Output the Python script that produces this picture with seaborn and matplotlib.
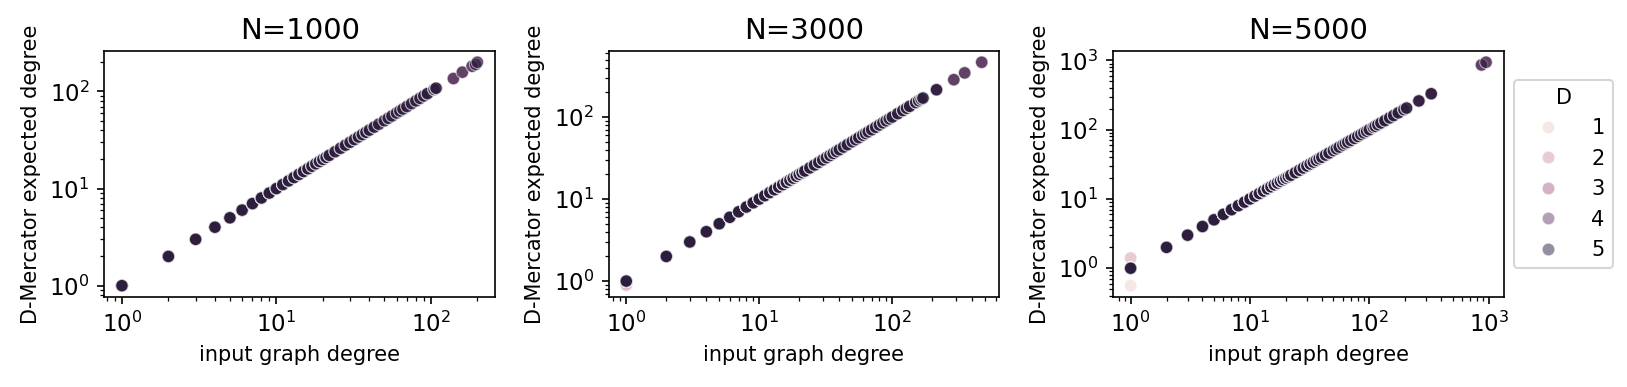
import numpy as np
import pandas as pd
import matplotlib
matplotlib.use("Agg")
import matplotlib.pyplot as plt
import seaborn as sns

# network sizes (one panel each) and embedding dimensions (hue)
sizes = [1000, 3000, 5000]
dims = [1, 2, 3, 4, 5]

# input degrees found in every network; expected degree sits on the diagonal
deg_low = [1, 2, 3, 4, 5, 6, 7, 8, 9, 10, 11, 12, 13, 14, 15, 16, 17, 18, 19,
           20, 21, 22, 24, 26, 28, 30, 32, 34, 36, 38, 40, 43, 46, 50, 53, 56,
           60, 63, 66, 70, 75, 80, 85, 90]
# number of nodes sharing each of those degrees
cnt_1000 = [6, 8, 9, 9, 8, 8, 7, 7, 6, 6, 6, 5, 5, 5, 5, 4, 4, 4, 4, 4,
            4, 4, 3, 3, 3, 3, 3, 3, 3, 3, 3, 3, 2, 2, 2, 2, 2, 2, 2, 2, 2, 2, 2, 2]
cnt_3000 = [8, 12, 14, 14, 13, 12, 11, 10, 9, 9, 8, 8, 7, 7, 7, 6, 6, 6, 5, 5,
            5, 5, 5, 4, 4, 4, 4, 4, 4, 4, 3, 3, 3, 3, 3, 3, 3, 3, 3, 3, 3, 3, 3, 3]
cnt_5000 = [10, 16, 18, 18, 16, 15, 14, 12, 11, 10, 10, 9, 9, 8, 8, 7, 7, 7, 6, 6,
            6, 6, 6, 5, 5, 5, 5, 5, 4, 4, 4, 4, 4, 4, 4, 3, 3, 3, 3, 3, 3, 3, 3, 3]
counts = {1000: cnt_1000, 3000: cnt_3000, 5000: cnt_5000}

# higher degrees still shared by a few nodes
deg_mid = {
    1000: [95, 105, 108],
    3000: [95, 100, 110, 120, 128, 135, 150, 158, 165, 170, 215],
    5000: [95, 100, 108, 112, 118, 125, 135, 148, 160, 175, 195, 205, 260, 330],
}

# single hubs: (input degree, expected degree)
hubs = {
    1000: [(140, 136), (160, 158), (185, 182), (195, 190), (200, 200)],
    3000: [(290, 285), (350, 345), (470, 465)],
    5000: [(870, 860), (950, 940)],
}

# low-dimensional outliers at degree 1: (D, expected degree)
outliers = {
    1000: [],
    3000: [(1, 0.88), (2, 0.9)],
    5000: [(1, 0.56), (2, 1.4)],
}

rows = []
for n in sizes:
    for d in dims:
        bad = dict(outliers[n])
        for k, c in zip(deg_low, counts[n]):
            kexp = bad[d] if (k == 1 and d in bad) else k
            rows += [(n, d, k, kexp)] * (1 if (k == 1 and d in bad) else c)
        for k in deg_mid[n]:
            rows += [(n, d, k, k)] * 3
        for k, kexp in hubs[n]:
            rows.append((n, d, k, kexp))
df = pd.DataFrame(rows, columns=["N", "D", "k_in", "k_exp"])

fig, axes = plt.subplots(1, 3, figsize=(10.85, 2.58), dpi=150)
fig.subplots_adjust(left=0.064, right=0.924, bottom=0.233, top=0.868, wspace=0.29)

for i, (ax, n) in enumerate(zip(axes, sizes)):
    sub = df[df["N"] == n]
    sns.scatterplot(data=sub, x="k_in", y="k_exp", hue="D", alpha=0.5,
                    ax=ax, legend="full" if i == 2 else False)
    ax.set_xscale("log")
    ax.set_yscale("log")
    ax.set_title(f"N={n}", fontsize=14)
    ax.set_xlabel("input graph degree", fontsize=10)
    ax.set_ylabel("D-Mercator expected degree", fontsize=10)
    ax.tick_params(labelsize=11)

sns.move_legend(axes[2], "center left", bbox_to_anchor=(1, 0.5), title="D",
                fontsize=10, title_fontsize=10, handlelength=2.4, handletextpad=0.9)

fig.savefig("out.png", dpi=150)
